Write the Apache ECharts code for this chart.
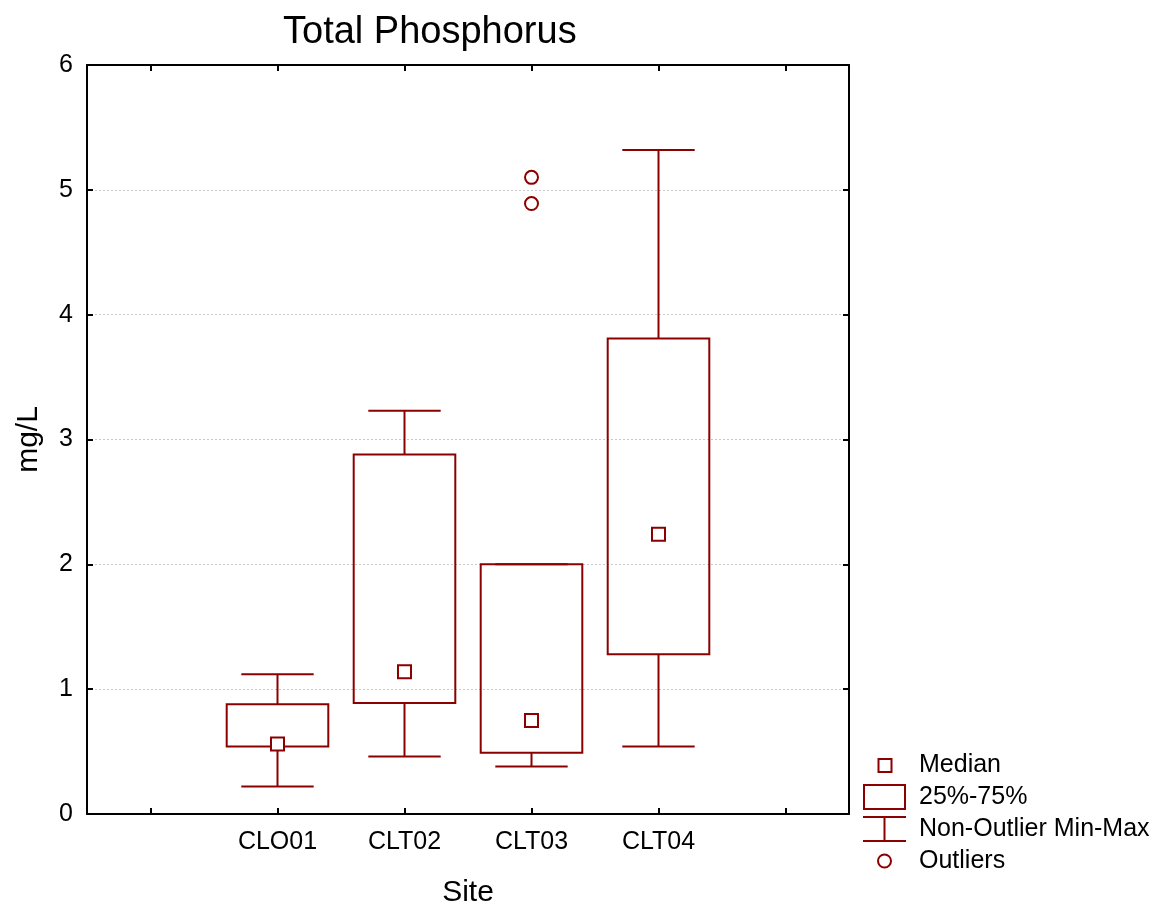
<!DOCTYPE html>
<html>
<head>
<meta charset="utf-8">
<script src="https://cdn.jsdelivr.net/npm/echarts@6/dist/echarts.min.js"></script>
<style>
html,body{margin:0;padding:0;background:#fff;overflow:hidden;}
#chart{width:1161px;height:907px;}
</style>
</head>
<body>
<div id="chart"></div>
<script>
// ---- data ----
const categories = ['', 'CLO01', 'CLT02', 'CLT03', 'CLT04', ' '];
const siteIndex = [1, 2, 3, 4];
const minVals    = [0.22, 0.46, 0.38, 0.54];
const q1Vals     = [0.54, 0.89, 0.49, 1.28];
const medianVals = [0.56, 1.14, 0.75, 2.24];
const q3Vals     = [0.88, 2.88, 2.00, 3.81];
const maxVals    = [1.12, 3.23, 2.00, 5.32];
const outlierSite  = [3, 3];
const outlierVals  = [5.10, 4.89];
const yTicks = [0, 1, 2, 3, 4, 5, 6];

// ---- styling ----
const RED = '#8B0000';
const FONT = 'Liberation Sans, Arial, Helvetica, sans-serif';
const BOX_RATIO = 0.8;
const CAP_RATIO = 0.57;

const boxData = siteIndex.map((s, i) => [s, minVals[i], q1Vals[i], q3Vals[i], maxVals[i]]);
const medianData = siteIndex.map((s, i) => [s, medianVals[i]]);
const outlierData = outlierSite.map((s, i) => [s, outlierVals[i]]);

function renderBox(params, api) {
  const x = api.value(0);
  const pQ1 = api.coord([x, api.value(2)]);
  const pQ3 = api.coord([x, api.value(3)]);
  const band = api.size([1, 0])[0];
  const w = band * BOX_RATIO;
  return {
    type: 'rect',
    shape: { x: pQ1[0] - w / 2, y: pQ3[1], width: w, height: pQ1[1] - pQ3[1] },
    style: { fill: 'none', stroke: RED, lineWidth: 2 }
  };
}

function renderWhisker(params, api) {
  const x = api.value(0);
  const pMin = api.coord([x, api.value(1)]);
  const pQ1 = api.coord([x, api.value(2)]);
  const pQ3 = api.coord([x, api.value(3)]);
  const pMax = api.coord([x, api.value(4)]);
  const band = api.size([1, 0])[0];
  const cw = band * CAP_RATIO / 2;
  const st = { stroke: RED, lineWidth: 2, fill: 'none' };
  return {
    type: 'group',
    children: [
      { type: 'line', shape: { x1: pMax[0], y1: pMax[1], x2: pQ3[0], y2: pQ3[1] }, style: st },
      { type: 'line', shape: { x1: pQ1[0], y1: pQ1[1], x2: pMin[0], y2: pMin[1] }, style: st },
      { type: 'line', shape: { x1: pMax[0] - cw, y1: pMax[1], x2: pMax[0] + cw, y2: pMax[1] }, style: st },
      { type: 'line', shape: { x1: pMin[0] - cw, y1: pMin[1], x2: pMin[0] + cw, y2: pMin[1] }, style: st }
    ]
  };
}

const legendItemStyle = { color: '#fff', borderColor: RED, borderWidth: 2, opacity: 1 };
const pad = 'M0,0M51,26';

const chart = echarts.init(document.getElementById('chart'), null, { renderer: 'canvas' });
chart.setOption({
  animation: false,
  backgroundColor: '#fff',
  textStyle: { fontFamily: FONT },
  title: {
    text: 'Total Phosphorus',
    left: 278,
    top: 9,
    textStyle: { fontFamily: FONT, fontSize: 38, fontWeight: 'normal', color: '#000' }
  },
  grid: { left: 87, width: 762, top: 65, height: 749, containLabel: false, outerBoundsMode: 'none' },
  legend: {
    orient: 'vertical',
    left: 862,
    top: 751,
    padding: 0,
    itemWidth: 51,
    itemHeight: 26,
    itemGap: 4,
    selectedMode: false,
    textStyle: { fontFamily: FONT, fontSize: 25, color: '#000', padding: [0, 0, 0, 0] },
    data: [
      { name: 'Median', icon: 'path://' + pad + 'M15.5,7h13v13h-13z', itemStyle: legendItemStyle },
      { name: '25%-75%', icon: 'path://' + pad + 'M1,1h41v24h-41z', itemStyle: legendItemStyle },
      { name: 'Non-Outlier Min-Max', icon: 'path://' + pad + 'M0,1h43M21.5,1v24M0,25h43', itemStyle: legendItemStyle },
      { name: 'Outliers', icon: 'path://' + pad + 'M28,13a6.5,6.5 0 1,1 -13,0a6.5,6.5 0 1,1 13,0z', itemStyle: legendItemStyle }
    ]
  },
  xAxis: [
    {
      type: 'category',
      data: categories,
      position: 'bottom',
      boundaryGap: true,
      name: 'Site',
      nameLocation: 'middle',
      nameGap: 64,
      nameTextStyle: { fontFamily: FONT, fontSize: 30, color: '#000' },
      axisLine: { show: true, onZero: false, lineStyle: { color: '#000', width: 2 } },
      axisTick: { show: true, inside: true, alignWithLabel: true, interval: 0, length: 6, lineStyle: { color: '#000', width: 2 } },
      axisLabel: { interval: 0, margin: 16, fontFamily: FONT, fontSize: 25, color: '#000' },
      splitLine: { show: false }
    },
    {
      type: 'category',
      data: categories,
      position: 'top',
      boundaryGap: true,
      axisLine: { show: true, onZero: false, lineStyle: { color: '#000', width: 2 } },
      axisTick: { show: true, inside: true, alignWithLabel: true, interval: 0, length: 6, lineStyle: { color: '#000', width: 2 } },
      axisLabel: { show: false },
      splitLine: { show: false }
    }
  ],
  yAxis: [
    {
      type: 'value',
      min: yTicks[0],
      max: yTicks[yTicks.length - 1],
      interval: 1,
      position: 'left',
      name: 'mg/L',
      nameLocation: 'middle',
      nameRotate: 90,
      nameGap: 43,
      nameTextStyle: { fontFamily: FONT, fontSize: 30, color: '#000' },
      axisLine: { show: true, onZero: false, lineStyle: { color: '#000', width: 2 } },
      axisTick: { show: true, inside: true, length: 6, lineStyle: { color: '#000', width: 2 } },
      axisLabel: { margin: 14, fontFamily: FONT, fontSize: 25, color: '#000' },
      splitLine: { show: true, lineStyle: { color: '#c8c8c8', type: [2, 2], width: 1 } }
    },
    {
      type: 'value',
      min: yTicks[0],
      max: yTicks[yTicks.length - 1],
      interval: 1,
      position: 'right',
      axisLine: { show: true, onZero: false, lineStyle: { color: '#000', width: 2 } },
      axisTick: { show: true, inside: true, length: 6, lineStyle: { color: '#000', width: 2 } },
      axisLabel: { show: false },
      splitLine: { show: false }
    }
  ],
  series: [
    {
      name: 'Non-Outlier Min-Max',
      type: 'custom',
      renderItem: renderWhisker,
      data: boxData,
      encode: { x: 0, y: [1, 2, 3, 4] },
      itemStyle: { color: RED },
      z: 2
    },
    {
      name: '25%-75%',
      type: 'custom',
      renderItem: renderBox,
      data: boxData,
      encode: { x: 0, y: [1, 2, 3, 4] },
      itemStyle: { color: RED },
      z: 3
    },
    {
      name: 'Median',
      type: 'scatter',
      data: medianData,
      symbol: 'rect',
      symbolSize: 13,
      itemStyle: { color: '#fff', borderColor: RED, borderWidth: 2, opacity: 1 },
      z: 4
    },
    {
      name: 'Outliers',
      type: 'scatter',
      data: outlierData,
      symbol: 'circle',
      symbolSize: 13,
      itemStyle: { color: '#fff', borderColor: RED, borderWidth: 2, opacity: 1 },
      z: 4
    }
  ]
});
</script>
</body>
</html>
